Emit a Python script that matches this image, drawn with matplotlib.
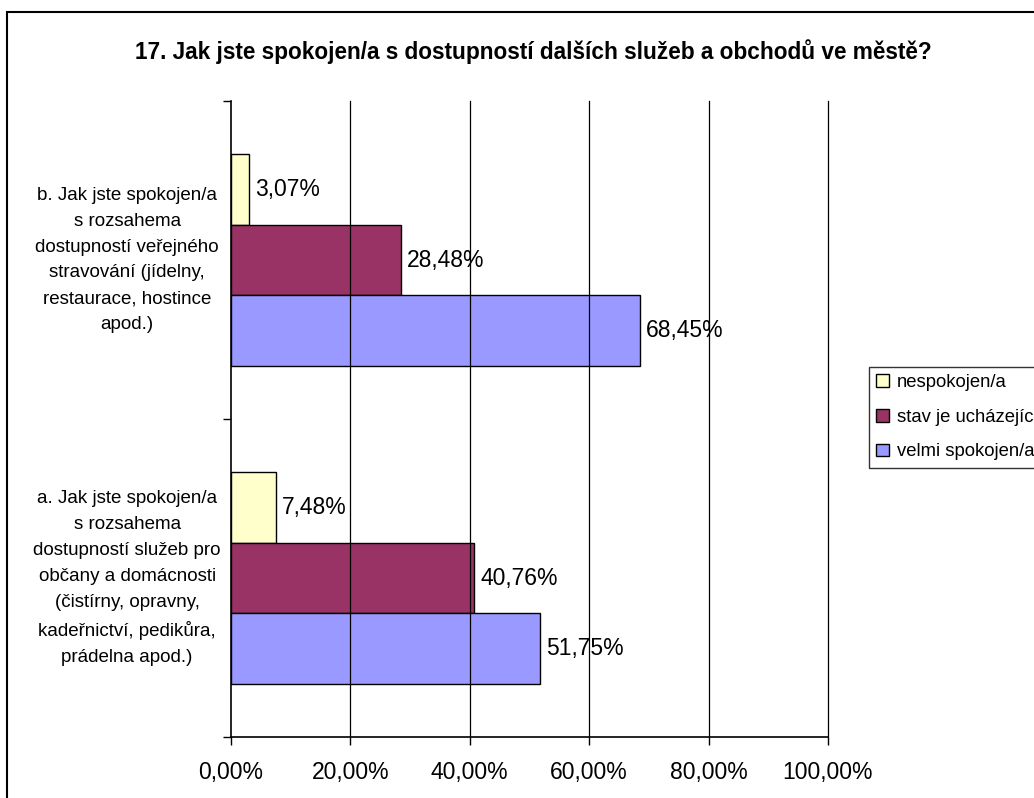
import matplotlib
matplotlib.use("Agg")
import matplotlib.pyplot as plt
from matplotlib.patches import Rectangle
import numpy as np

plt.rcParams['font.family'] = ['Liberation Sans', 'DejaVu Sans']

title = "17. Jak jste spokojen/a s dostupností dalších služeb a obchodů ve městě?"
categories = [
    "a. Jak jste spokojen/a\ns rozsahema\ndostupností služeb pro\nobčany a domácnosti\n(čistírny, opravny,\nkadeřnictví, pedikůra,\nprádelna apod.)",
    "b. Jak jste spokojen/a\ns rozsahema\ndostupností veřejného\nstravování (jídelny,\nrestaurace, hostince\napod.)",
]
series_names = ["nespokojen/a", "stav je ucházející", "velmi spokojen/a"]
nespokojen = [7.48, 3.07]
uchazejici = [40.76, 28.48]
velmi = [51.75, 68.45]
xticks = [0, 20, 40, 60, 80, 100]
xticklabels = ["0,00%", "20,00%", "40,00%", "60,00%", "80,00%", "100,00%"]

colors = ["#FFFFCC", "#993366", "#9999FF"]

W, H = 1034, 798
fig = plt.figure(figsize=(W / 100, H / 100), dpi=100)
fig.patch.set_facecolor("white")

# outer chart border (extends off canvas on right/bottom)
fig.patches.append(Rectangle((7 / W, -0.02), 1.05, 1 - 12 / H + 0.02,
                             transform=fig.transFigure, fill=False,
                             edgecolor="black", linewidth=1.5, zorder=0))

ax = fig.add_axes([231 / W, 1 - 737 / H, (828 - 231) / W, (737 - 101) / H])

y = np.arange(len(categories))
h = 1 / 4.5
series = [nespokojen, uchazejici, velmi]
offsets = [h, 0, -h]
for vals, off, col, name in zip(series, offsets, colors, series_names):
    ax.barh(y + off, vals, height=h, color=col, edgecolor="black",
            linewidth=1.0, label=name, zorder=2)
    for yy, v in zip(y + off, vals):
        ax.annotate(f"{v:.2f}".replace(".", ",") + "%", (v, yy),
                    xytext=(4.5, 0), textcoords="offset points",
                    va="center", ha="left", fontsize=16.5, zorder=1)

ax.set_xlim(0, 100)
ax.set_ylim(-0.5, 1.5)
ax.set_xticks(xticks)
ax.set_xticklabels(xticklabels, fontsize=16.5)
ax.set_yticks([-0.5, 0.5, 1.5])
ax.set_yticklabels([])
ax.tick_params(axis="y", length=6, width=1, direction="out")
ax.tick_params(axis="x", length=6, width=1, direction="out", pad=11)
for v in xticks[1:]:
    ax.axvline(v, color="black", linewidth=0.9, zorder=3, clip_on=False)
for s in ["top", "right"]:
    ax.spines[s].set_visible(False)
ax.spines["left"].set_linewidth(1.2)
ax.spines["bottom"].set_linewidth(1.2)
ax.spines["left"].set_zorder(4)
ax.spines["bottom"].set_zorder(4)

# category labels
for yy, lab in zip(y, categories):
    ax.text(-0.174, yy, lab, transform=ax.get_yaxis_transform(),
            ha="center", va="center", multialignment="center",
            fontsize=13.5, linespacing=1.68)

fig.text(0.516, 1 - 52 / H, title, ha="center", va="center",
         fontsize=16.3, fontweight="bold")

handles, labels = ax.get_legend_handles_labels()
leg = fig.legend(handles, labels, loc="upper left",
                 bbox_to_anchor=(869 / W, 1 - 367 / H), frameon=True,
                 fontsize=13.3, handlelength=0.7, handleheight=0.7,
                 handletextpad=0.4, labelspacing=0.95, borderpad=0.4,
                 fancybox=False, borderaxespad=0)
leg.get_frame().set_edgecolor("black")
leg.get_frame().set_linewidth(1.0)

fig.savefig("out.png", dpi=100, facecolor="white")
